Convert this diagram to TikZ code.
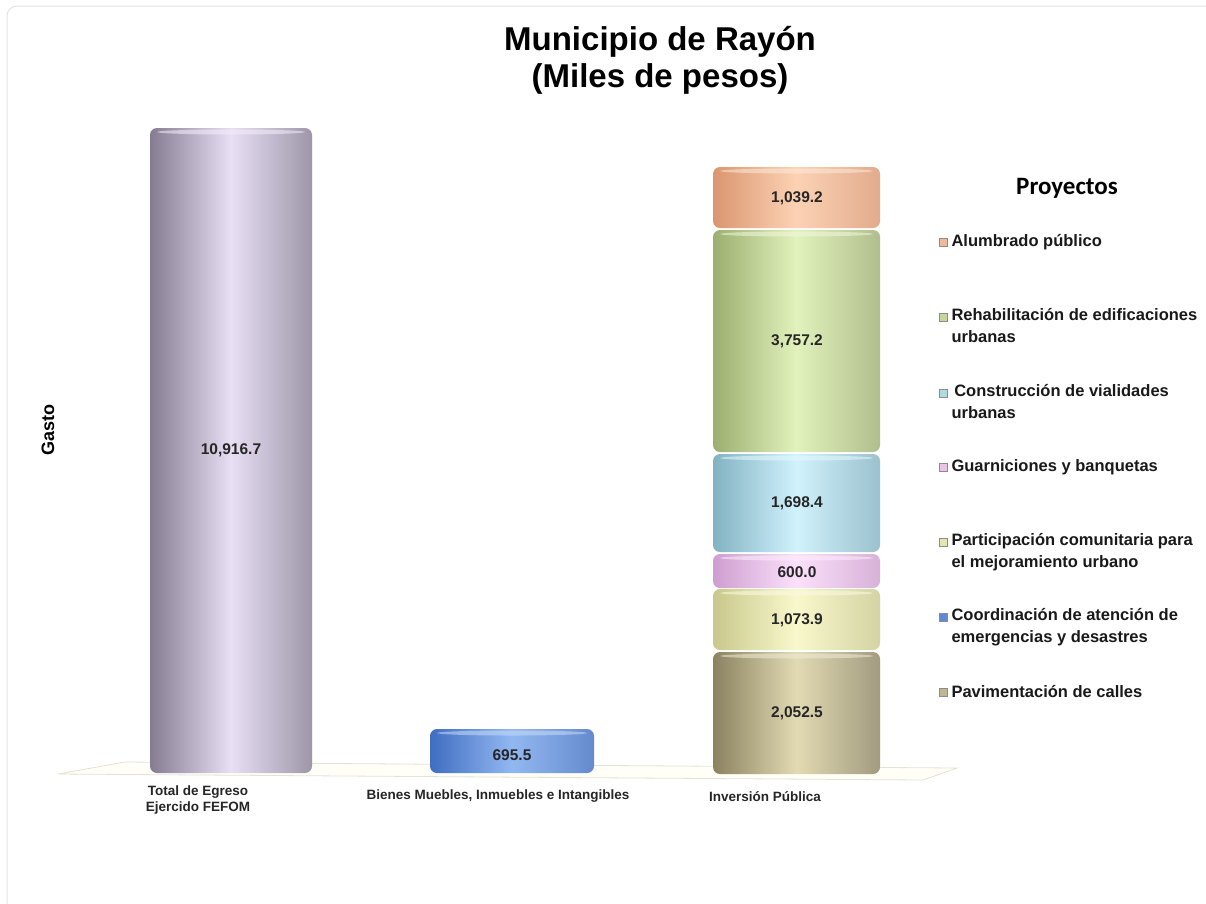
\documentclass[tikz,border=0pt]{standalone}
\usepackage{fontspec}
\setmainfont{Liberation Sans}
\newfontfamily\carl{Carlito}
\usetikzlibrary{shapes.geometric}
\definecolor{frameg}{HTML}{E4E4E4}
\definecolor{floorc}{HTML}{E2E2D6}
\definecolor{purD}{HTML}{857C92}\definecolor{purL}{HTML}{E8DFF5}
\definecolor{bluD}{HTML}{3F6DC0}\definecolor{bluL}{HTML}{92B8F2}
\definecolor{orD}{HTML}{DA9670}\definecolor{orL}{HTML}{FCD2B4}
\definecolor{grD}{HTML}{9CAE70}\definecolor{grL}{HTML}{E2F2BC}
\definecolor{cyD}{HTML}{82B2C2}\definecolor{cyL}{HTML}{D0F2FC}
\definecolor{piD}{HTML}{CE9ECE}\definecolor{piL}{HTML}{FBE0FB}
\definecolor{yeD}{HTML}{C8C88C}\definecolor{yeL}{HTML}{F8F8CC}
\definecolor{khD}{HTML}{8A8260}\definecolor{khL}{HTML}{E2DAB2}
\newcommand{\mycyl}[6]{%
  \shade[left color=#5, right color=#5!80!white, middle color=#6, rounded corners=7pt] (#1,#3) rectangle (#2,#4);
  \fill[#6!50!white, opacity=0.55] ({(#1+#2)/2},{#3+4}) ellipse [x radius={(#2-#1)/2-7}, y radius=2.5];
}
\tikzset{
  valtxt/.style={font=\bfseries\fontsize{15.5}{18}\selectfont, text=black!85},
  cattxt/.style={font=\bfseries\fontsize{13.5}{16}\selectfont, align=center, text=black!85},
  legtxt/.style={font=\bfseries\fontsize{16.5}{22}\selectfont, align=left, anchor=west, text=black!90},
  legmark/.style={minimum width=7.5pt, minimum height=7.5pt, inner sep=0pt, draw=white!55!black, line width=0.4pt},
}
\begin{document}
\begin{tikzpicture}[x=1pt,y=-1pt]
\useasboundingbox (0,0) rectangle (1206,903);
\fill[white] (0,0) rectangle (1206,903);
\draw[frameg, line width=1pt, rounded corners=10pt] (7,6) rectangle (1230,930);
% title
\node[font=\bfseries\fontsize{33}{37}\selectfont, align=center] (title) at (660,60) {Municipio de Rayón\\(Miles de pesos)};
% axis title
\node[font=\bfseries\fontsize{18}{20}\selectfont, rotate=90] (gasto) at (48,430) {Gasto};
% floor
\draw[floorc, line width=0.8pt, fill=white!97!yellow] (58,774) -- (125,762) -- (957,768) -- (923,780) -- cycle;
% bars
\mycyl{150}{312}{128}{773}{purD}{purL}
\mycyl{430}{594}{729}{773}{bluD}{bluL}
\mycyl{713}{880}{652}{774}{khD}{khL}
\mycyl{713}{880}{589}{650}{yeD}{yeL}
\mycyl{713}{880}{554}{588}{piD}{piL}
\mycyl{713}{880}{454}{552}{cyD}{cyL}
\mycyl{713}{880}{230}{452}{grD}{grL}
\mycyl{713}{880}{167}{228}{orD}{orL}
% values
\node[valtxt] (v1) at (231,450) {10,916.7};
\node[valtxt] (v2) at (512,755) {695.5};
\node[valtxt] (v3) at (797,713) {2,052.5};
\node[valtxt] (v4) at (797,620) {1,073.9};
\node[valtxt] (v5) at (797,572) {600.0};
\node[valtxt] (v6) at (797,503) {1,698.4};
\node[valtxt] (v7) at (797,341) {3,757.2};
\node[valtxt] (v8) at (797,198) {1,039.2};
% categories
\node[cattxt] (c1) at (198,800) {Total de Egreso\\Ejercido FEFOM};
\node[cattxt] (c2) at (498,796) {Bienes Muebles, Inmuebles e Intangibles};
\node[cattxt] (c3) at (765,797) {Inversión Pública};
% legend
\node[font=\carl\bfseries\fontsize{25}{28}\selectfont] (leghead) at (1067,188) {Proyectos};
\node[legmark, fill=orL!60!orD] (m1) at (943,242) {};
\node[legtxt] (l1) at (948,242) {Alumbrado público};
\node[legmark, fill=grL!60!grD] (m2) at (943,317) {};
\node[legtxt, anchor=north west] (l2) at (948,305) {Rehabilitación de edificaciones\\urbanas};
\node[legmark, fill=cyL!60!cyD] (m3) at (943,393) {};
\node[legtxt, anchor=north west] (l3) at (948,381) {\,Construcción de vialidades\\urbanas};
\node[legmark, fill=piL!60!piD] (m4) at (943,467) {};
\node[legtxt] (l4) at (948,467) {Guarniciones y banquetas};
\node[legmark, fill=yeL!60!yeD] (m5) at (943,542) {};
\node[legtxt, anchor=north west] (l5) at (948,530) {Participación comunitaria para\\el mejoramiento urbano};
\node[legmark, fill=bluL!40!bluD] (m6) at (943,617) {};
\node[legtxt, anchor=north west] (l6) at (948,605) {Coordinación de atención de\\emergencias y desastres};
\node[legmark, fill=khL!60!khD] (m7) at (943,692) {};
\node[legtxt] (l7) at (948,692) {Pavimentación de calles};
\end{tikzpicture}
\end{document}
